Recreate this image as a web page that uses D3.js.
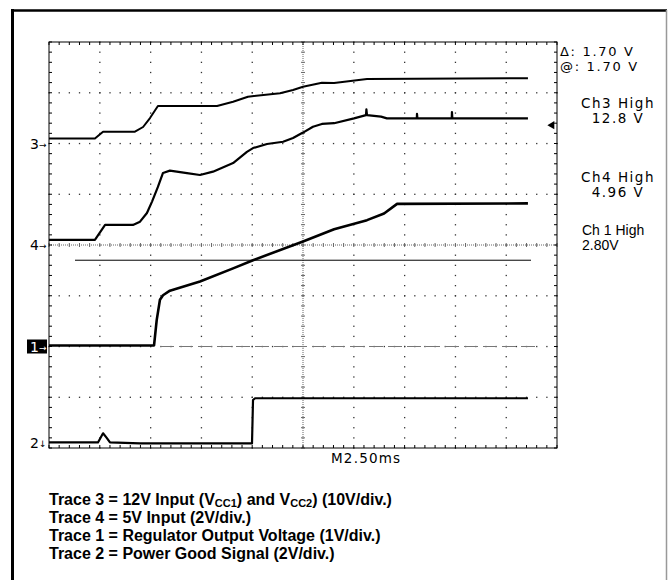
<!DOCTYPE html>
<html>
<head>
<meta charset="utf-8">
<script src="https://cdn.jsdelivr.net/npm/d3@7"></script>
<style>
  body { margin: 0; background: #fff; }
  svg { display: block; }
  .scope { font-family: "DejaVu Sans", sans-serif; }
</style>
</head>
<body>
<svg id="chart" width="668" height="580"></svg>
<script>
// time in ms, level in volts
const trace3 = [[0,0.99],[2.26,0.99],[2.66,2.33],[4.23,2.33],[4.63,3.25],[4.97,5.02],[5.36,7.39],
  [8.27,7.39],[9.06,8.24],[9.79,9.22],[11.37,9.89],[12.01,10.54],[12.5,11.19],[13.43,11.98],
  [14.03,11.92],[15.65,12.71],[23.57,12.85]];
const trace4 = [[0,0.2],[2.26,0.2],[2.76,0.79],[4.13,0.79],[4.48,0.92],[4.82,1.26],[5.07,1.71],
  [5.36,2.29],[5.61,2.84],[5.95,2.93],[6.79,2.83],[7.43,2.76],[8.07,2.89],[9.06,3.23],[9.74,3.67],
  [10.04,3.82],[10.73,3.98],[11.52,4.07],[12.01,4.22],[12.5,4.43],[12.99,4.66],[13.43,4.77],
  [14.03,4.8],[15.01,4.99],[15.6,5.12],[15.62,5.35],[15.65,5.12],[16.34,5.06],[16.63,4.99],
  [18.1,4.99],[18.11,5.17],[18.13,4.99],[19.82,4.99],[19.83,5.24],[19.85,4.99],[23.57,4.99]];
const trace1 = [[0,0.02],[5.17,0.02],[5.3,0.52],[5.46,0.92],[5.61,1.01],[5.95,1.1],[7.43,1.28],
  [9.06,1.54],[10.04,1.7],[12.5,2.07],[14.03,2.31],[15.65,2.49],[16.49,2.62],[17.13,2.81],[23.57,2.82]];
const trace2 = [[0,0.02],[2.41,0.02],[2.66,0.38],[2.85,0.19],[3.0,0.02],[4.48,-0.02],[9.99,-0.02],
  [10.04,1.69],[10.14,1.76],[23.57,1.76]];

const channelNames = ["3", "4", "1", "2"];
const groundDiv = [2, 0, -2, -3.9];     // marker position, divisions from centre
const voltsPerDiv = [10, 2, 1, 2];
const cursorVolts = 1.70;
const readouts = ["\u0394: 1.70 V", "@: 1.70 V"];
const highLabels = [["Ch3 High", "12.8 V"], ["Ch4 High", "4.96 V"]];
const ch1Label = ["Ch 1 High", "2.80V"];
const timebase = "M2.50ms";
const notes = [
  ["Trace 3 = 12V Input (V", "CC1", ") and V", "CC2", ") (10V/div.)"],
  ["Trace 4 = 5V Input (2V/div.)"],
  ["Trace 1 = Regulator Output Voltage (1V/div.)"],
  ["Trace 2 = Power Good Signal (2V/div.)"]
];

const svg = d3.select("#chart");
const pl = 49, pr = 557, pt = 42, pb = 448;

const x = d3.scaleLinear().domain([0, 25]).range([pl, pr]);
const yDiv = d3.scaleLinear().domain([-4, 4]).range([pb, pt]);
const chY = (i, v) => yDiv(groundDiv[i] + v / voltsPerDiv[i]);

// outer frame
svg.append("line").attr("x1", 11).attr("y1", 10.5).attr("x2", 667).attr("y2", 10.5)
   .attr("stroke", "#000").attr("stroke-width", 2.5);
svg.append("line").attr("x1", 12.5).attr("y1", 9).attr("x2", 12.5).attr("y2", 580)
   .attr("stroke", "#000").attr("stroke-width", 3);
svg.append("line").attr("x1", 666.5).attr("y1", 10).attr("x2", 666.5).attr("y2", 580)
   .attr("stroke", "#999").attr("stroke-width", 1.5);

// graticule
const g = svg.append("g").attr("class", "grid");
const minorX = d3.range(0, 25.01, 0.5);
const minorY = d3.range(-4, 4.01, 0.2);
const majorX = d3.range(2.5, 25, 2.5).filter(d => Math.abs(d - 12.5) > 0.01);
const majorY = d3.range(-3, 4, 1).filter(d => d !== 0);

majorX.forEach(t => {
  g.selectAll(null).data(minorY).enter().append("rect")
   .attr("x", x(t) - 0.6).attr("y", d => yDiv(d) - 0.6).attr("width", 1.3).attr("height", 1.3)
   .attr("fill", "#333");
});
majorY.forEach(v => {
  g.selectAll(null).data(minorX).enter().append("rect")
   .attr("x", d => x(d) - 0.6).attr("y", yDiv(v) - 0.6).attr("width", 1.3).attr("height", 1.3)
   .attr("fill", "#333");
});

// centre crosshair
g.append("line").attr("x1", x(12.5)).attr("x2", x(12.5)).attr("y1", pt).attr("y2", pb)
 .attr("stroke", "#666").attr("stroke-dasharray", "1,1");
g.append("line").attr("x1", pl).attr("x2", pr).attr("y1", yDiv(0)).attr("y2", yDiv(0))
 .attr("stroke", "#666").attr("stroke-dasharray", "1,1");
g.selectAll(null).data(minorY).enter().append("line")
 .attr("x1", x(12.5) - 2).attr("x2", x(12.5) + 2).attr("y1", d => yDiv(d)).attr("y2", d => yDiv(d))
 .attr("stroke", "#666");
g.selectAll(null).data(minorX).enter().append("line")
 .attr("y1", yDiv(0) - 2).attr("y2", yDiv(0) + 2).attr("x1", d => x(d)).attr("x2", d => x(d))
 .attr("stroke", "#666");

// border + edge ticks
g.append("rect").attr("x", pl).attr("y", pt).attr("width", pr - pl).attr("height", pb - pt)
 .attr("fill", "none").attr("stroke", "#000").attr("stroke-width", 1);
g.selectAll(null).data(minorX).enter().append("line")
 .attr("x1", d => x(d)).attr("x2", d => x(d)).attr("y1", pt).attr("y2", pt + 3)
 .attr("stroke", "#000");
g.selectAll(null).data(minorX).enter().append("line")
 .attr("x1", d => x(d)).attr("x2", d => x(d)).attr("y1", pb - 3).attr("y2", pb)
 .attr("stroke", "#000");
g.selectAll(null).data(minorY).enter().append("line")
 .attr("x1", pl).attr("x2", pl + 3).attr("y1", d => yDiv(d)).attr("y2", d => yDiv(d))
 .attr("stroke", "#000");
g.selectAll(null).data(minorY).enter().append("line")
 .attr("x1", pr - 3).attr("x2", pr).attr("y1", d => yDiv(d)).attr("y2", d => yDiv(d))
 .attr("stroke", "#000");

// ch1 ground reference (dashed) and cursor
svg.append("line").attr("x1", 160).attr("x2", 537)
   .attr("y1", chY(2, 0)).attr("y2", chY(2, 0))
   .attr("stroke", "#777").attr("stroke-width", 1.2).attr("stroke-dasharray", "14,5");
svg.append("line").attr("x1", 75).attr("x2", 531)
   .attr("y1", chY(2, cursorVolts)).attr("y2", chY(2, cursorVolts))
   .attr("stroke", "#000").attr("stroke-width", 1);

// traces
const traces = [trace3, trace4, trace1, trace2];
const widths = [2, 2.2, 2.6, 2.2];
traces.forEach((tr, i) => {
  const line = d3.line().x(d => x(d[0])).y(d => chY(i, d[1]));
  svg.append("path").datum(tr).attr("d", line)
     .attr("fill", "none").attr("stroke", "#000").attr("stroke-width", widths[i])
     .attr("stroke-linejoin", "round");
});

// channel markers
channelNames.forEach((name, i) => {
  const yy = yDiv(groundDiv[i]);
  const isCh1 = name === "1";
  const isCh2 = name === "2";
  if (isCh1) {
    svg.append("rect").attr("x", 27).attr("y", yy - 7).attr("width", 20).attr("height", 14).attr("fill", "#000");
  }
  svg.append("text").attr("class", "scope").attr("x", 30).attr("y", yy + 5)
     .attr("font-size", 14).attr("fill", isCh1 ? "#fff" : "#000").text(name);
  svg.append("text").attr("class", "scope").attr("x", 39).attr("y", yy + 4)
     .attr("font-size", 9).attr("fill", isCh1 ? "#fff" : "#000").text(isCh2 ? "\u2193" : "\u2192");
});

// trigger level marker
svg.append("path").attr("d", d3.symbol(d3.symbolTriangle, 28)())
   .attr("transform", `translate(552,${chY(1, 4.96) + 6}) rotate(-90)`).attr("fill", "#000");

// readouts
svg.selectAll(null).data(readouts).enter().append("text").attr("class", "scope")
   .attr("x", 560).attr("y", (d, i) => 56 + i * 15).attr("font-size", 13)
   .attr("letter-spacing", 1.7).text(d => d);
highLabels.forEach((pair, i) => {
  pair.forEach((s, j) => {
    svg.append("text").attr("class", "scope").attr("x", 618).attr("y", 108 + i * 74 + j * 15)
       .attr("text-anchor", "middle").attr("font-size", 13.5).attr("letter-spacing", 1.5).text(s);
  });
});
ch1Label.forEach((s, j) => {
  svg.append("text").attr("x", 582).attr("y", 235 + j * 15)
     .attr("font-family", "Liberation Sans, Arial, sans-serif").attr("font-size", 14).text(s);
});

// timebase
svg.append("text").attr("class", "scope").attr("x", 331).attr("y", 463)
   .attr("font-size", 13.5).attr("letter-spacing", 1.2).text(timebase);

// notes
notes.forEach((parts, i) => {
  const t = svg.append("text").attr("x", 49).attr("y", 505 + i * 18)
     .attr("font-family", "Liberation Sans, Arial, sans-serif").attr("font-weight", "bold")
     .attr("font-size", 16);
  parts.forEach((p, k) => {
    const sub = k % 2 === 1;
    t.append("tspan").attr("font-size", sub ? 11 : 16).attr("dy", sub ? 2 : (k > 0 ? -2 : 0)).text(p);
  });
});
</script>
</body>
</html>
